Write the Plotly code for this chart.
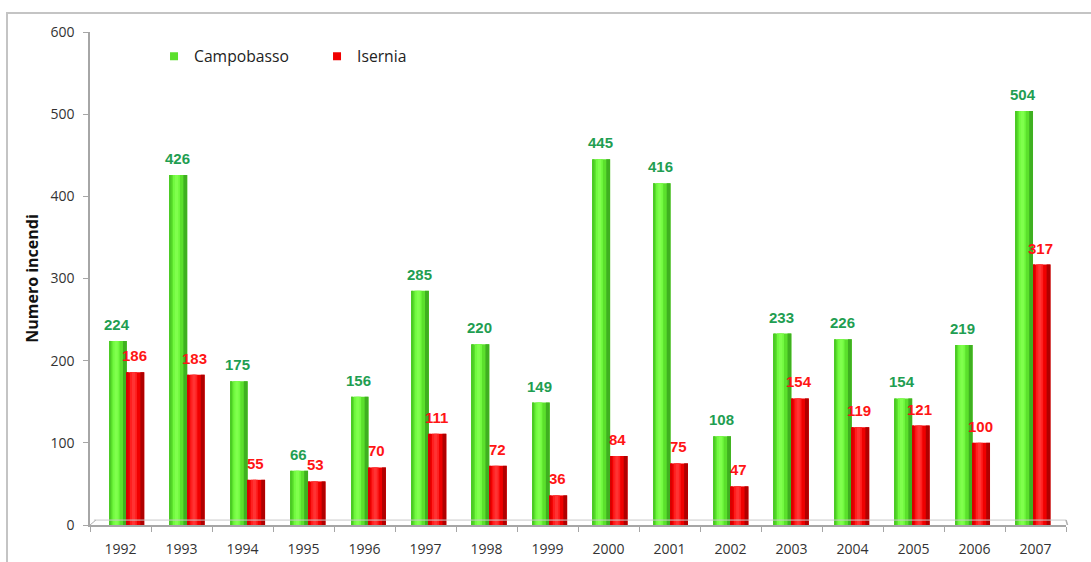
import plotly.graph_objects as go

# Forest fires per year, Molise provinces
anni = ["1992", "1993", "1994", "1995", "1996", "1997", "1998", "1999",
        "2000", "2001", "2002", "2003", "2004", "2005", "2006", "2007"]
campobasso = [224, 426, 175, 66, 156, 285, 220, 149, 445, 416, 108, 233, 226, 154, 219, 504]
isernia = [186, 183, 55, 53, 70, 111, 72, 36, 84, 75, 47, 154, 119, 121, 100, 317]

W, H = 1091, 562
ML, MR, MT, MB = 90, 25, 32, 37
BAR_W = 0.2886

# (fraction start, fraction width, colour) strips giving a cylinder-like shading
green_strips = [(0.0, 1.0, "#5be02c"), (0.0, 0.10, "#4ccb25"), (0.18, 0.40, "#72fa40"),
                (0.30, 0.18, "#80ff4d"), (0.78, 0.22, "#3fb020")]
red_strips = [(0.0, 1.0, "#f00000"), (0.0, 0.10, "#d80000"), (0.18, 0.40, "#ff1f1f"),
              (0.30, 0.18, "#ff3333"), (0.78, 0.22, "#b00000")]

fig = go.Figure()
labels = []


def add_series(values, base_off, strips, label_color, name):
    for i, (fs, fw, col) in enumerate(strips):
        main = i == 0
        fig.add_trace(go.Bar(
            x=anni, y=values, name=name, showlegend=False,
            offset=base_off + fs * BAR_W, width=fw * BAR_W,
            marker=dict(color=col, line=dict(width=0)),
            hoverinfo="skip" if not main else "x+y",
        ))
    # value labels above each bar
    for k, v in enumerate(values):
        labels.append(dict(
            x=k + base_off + BAR_W / 2, y=v, xref="x", yref="y",
            text=f"<b>{v}</b>", showarrow=False, yanchor="bottom", yshift=6, xshift=-1,
            font=dict(family="Liberation Sans, Arial", size=15, color=label_color),
        ))


add_series(campobasso, -BAR_W, green_strips, "#1f9e52", "Campobasso")
add_series(isernia, 0.0, red_strips, "#ff1515", "Isernia")

# legend entries
for name, col in [("Campobasso", "#5be02c"), ("Isernia", "#f00000")]:
    fig.add_trace(go.Scatter(x=[None], y=[None], mode="markers", name=name,
                             marker=dict(symbol="square", size=8, color=col)))

# category axis of the floor (labels and ticks)
fig.add_trace(go.Scatter(x=anni, y=[None] * len(anni), xaxis="x2", mode="none",
                         showlegend=False, hoverinfo="skip"))

fig.update_layout(
    width=W, height=H,
    margin=dict(l=ML, r=MR, t=MT, b=MB, autoexpand=False),
    paper_bgcolor="white", plot_bgcolor="white",
    barmode="overlay",
    font=dict(family="Open Sans", color="#333333"),
    annotations=labels,
    xaxis=dict(type="category", range=[-0.609, 15.546], visible=False, fixedrange=True,
               automargin=False),
    xaxis2=dict(type="category", overlaying="x", anchor="y", side="bottom",
                range=[-0.5, 15.5], tickson="boundaries", ticks="outside", ticklen=5,
                tickcolor="#a6a6a6", showline=True, linecolor="#a6a6a6", linewidth=1.5,
                showgrid=False, tickfont=dict(size=14, color="#333333"),
                ticklabelstandoff=10, automargin=False),
    yaxis=dict(range=[0, 600], dtick=100, ticks="outside", ticklen=5, tickcolor="#a6a6a6",
               showline=True, linecolor="#a6a6a6", linewidth=1.5, showgrid=False,
               zeroline=False, tickfont=dict(size=14, color="#333333"),
               ticklabelstandoff=6, automargin=False,
               title=dict(text="<b>Numero incendi</b>", standoff=8,
                          font=dict(size=16, color="#111111"))),
    legend=dict(orientation="h", x=0.0656, y=0.95, xanchor="left", yanchor="middle",
                font=dict(size=15.7, color="#222222"), entrywidth=118,
                bgcolor="rgba(0,0,0,0)"),
    shapes=[
        # outer frame
        dict(type="rect", xref="paper", yref="paper",
             x0=(7 - ML) / (W - ML - MR), x1=(W + 10 - ML) / (W - ML - MR),
             y0=-0.2, y1=(H - MB - 13) / (H - MT - MB),
             line=dict(color="#c4c4c4", width=2), layer="below"),
        # back edge of the floor
        dict(type="line", xref="paper", yref="y", x0=0.004, x1=1.0, y0=6, y1=6,
             line=dict(color="#c8c8c8", width=1)),
        dict(type="line", xref="paper", yref="y", x0=0.0, x1=0.006, y0=0, y1=6,
             line=dict(color="#b0b0b0", width=1)),
        dict(type="line", xref="paper", yref="y", x0=1.0, x1=1.003, y0=6, y1=-6,
             line=dict(color="#b0b0b0", width=1.5)),
    ],
)

fig.write_html("out.html")
